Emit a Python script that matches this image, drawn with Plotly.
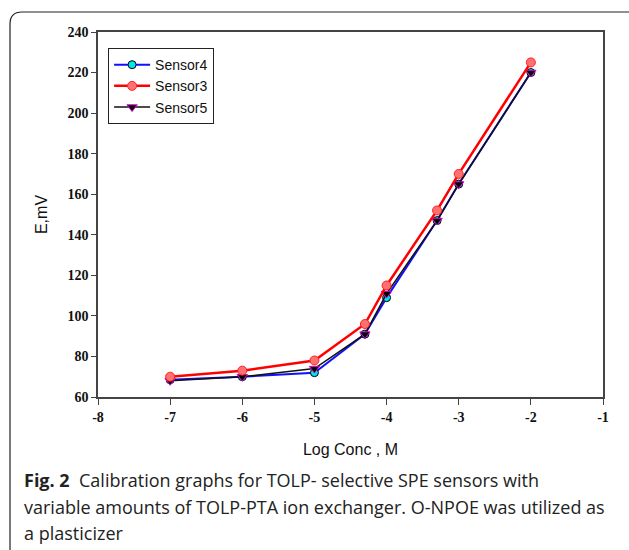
import plotly.graph_objects as go

log_conc = [-7, -6, -5, -4.3, -4, -3.3, -3, -2]
sensor4 = [68.5, 70, 72, 91, 109, 147, 165, 220]
sensor3 = [70, 73, 78, 96, 115, 152, 170, 225]
sensor5 = [68, 70, 74, 91, 111, 147, 165, 220]

x_ticks = [-8, -7, -6, -5, -4, -3, -2, -1]
y_ticks = [60, 80, 100, 120, 140, 160, 180, 200, 220, 240]

caption_lines = [
    "<b>Fig. 2</b>  Calibration graphs for TOLP- selective SPE sensors with",
    "variable amounts of TOLP-PTA ion exchanger. O-NPOE was utilized as",
    "a plasticizer",
]

fig = go.Figure()
fig.add_trace(go.Scatter(
    x=log_conc, y=sensor4, name="Sensor4", mode="lines+markers",
    line=dict(color="#1010ff", width=2),
    marker=dict(symbol="circle", size=8, color="#00e5ee", line=dict(color="#000000", width=1)),
))
fig.add_trace(go.Scatter(
    x=log_conc, y=sensor5, name="Sensor5", mode="lines+markers",
    line=dict(color="#111111", width=1.5),
    marker=dict(symbol="triangle-down", size=9, color="#000000", line=dict(color="#e000e0", width=1)),
))
fig.add_trace(go.Scatter(
    x=log_conc, y=sensor3, name="Sensor3", mode="lines+markers",
    line=dict(color="#ff0000", width=2.5),
    marker=dict(symbol="circle", size=9, color="#ff7070", line=dict(color="#ff2020", width=1)),
))

fig.update_layout(
    width=629, height=550,
    margin=dict(l=98, r=26, t=32, b=153),
    paper_bgcolor="white", plot_bgcolor="white",
    showlegend=True,
    legend=dict(
        x=0.02, y=0.956, xanchor="left", yanchor="top",
        bordercolor="#222222", borderwidth=1, bgcolor="white",
        font=dict(family="Liberation Sans, Arial", size=14, color="#111111"),
        traceorder="normal",
        itemwidth=36,
        tracegroupgap=0,
    ),
    xaxis=dict(
        range=[-8, -1], tickvals=x_ticks, ticktext=[str(v) for v in x_ticks],
        showgrid=False, zeroline=False, showline=True, linecolor="#444444", linewidth=1.5,
        mirror=True, ticks="outside", ticklen=6, tickcolor="#444444",
        tickfont=dict(family="Liberation Serif", size=14, color="#111111", weight="bold"),
        title=dict(text="Log Conc , M", font=dict(family="Liberation Sans, Arial", size=16, color="#111111"), standoff=20),
    ),
    yaxis=dict(
        range=[60, 240], tickvals=y_ticks, ticktext=[str(v) for v in y_ticks],
        showgrid=False, zeroline=False, showline=True, linecolor="#444444", linewidth=1.5,
        mirror=True, ticks="outside", ticklen=5, tickcolor="#444444",
        tickfont=dict(family="Liberation Serif", size=14, color="#111111", weight="bold"),
        title=dict(text="E,mV", font=dict(family="Liberation Sans, Arial", size=16, color="#111111"), standoff=16),
    ),
)

# Legend order: Sensor4, Sensor3, Sensor5
fig.data[0].legendrank = 1
fig.data[2].legendrank = 2
fig.data[1].legendrank = 3

# Card frame with rounded top-left corner
def px_to_paper(xp, yp):
    return (xp - 98) / 505, 1 - (yp - 32) / 365

x0, y0 = px_to_paper(10, 12)
xr, _ = px_to_paper(22, 12)
_, yr = px_to_paper(10, 24)
x1, _ = px_to_paper(650, 12)
_, y1 = px_to_paper(10, 570)
path = f"M {x0},{y1} L {x0},{yr} Q {x0},{y0} {xr},{y0} L {x1},{y0}"
fig.add_shape(type="path", path=path, xref="paper", yref="paper",
              line=dict(color="#222222", width=1.2))

caption_y = [480, 507, 533]
for txt, yy in zip(caption_lines, caption_y):
    _, ypp = px_to_paper(0, yy)
    xpp, _ = px_to_paper(22, 0)
    fig.add_annotation(text=txt, x=xpp, y=ypp, xref="paper", yref="paper",
                       xanchor="left", yanchor="middle", showarrow=False, align="left",
                       font=dict(family="Open Sans, Noto Sans", size=18, color="#222222"))

fig.write_html("out.html")
